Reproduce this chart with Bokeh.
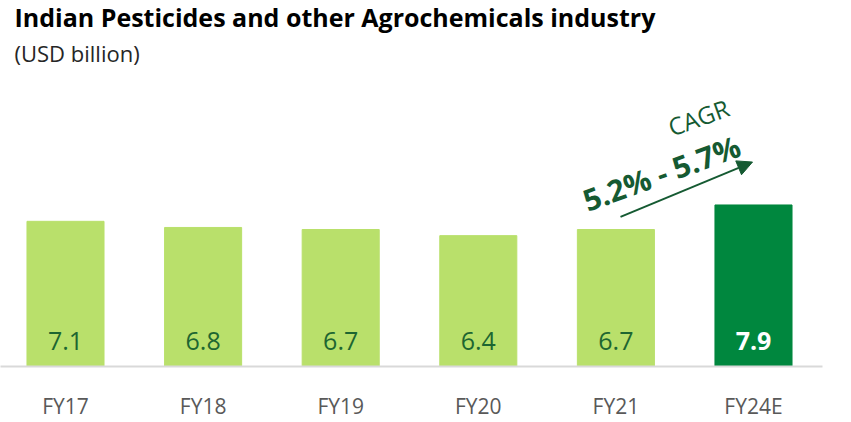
from bokeh.plotting import figure
from bokeh.models import ColumnDataSource, Range1d, FixedTicker, Label, Arrow, NormalHead
from bokeh.core.properties import value
from bokeh.embed import file_html
from bokeh.resources import INLINE
import math

# ---- data ----
categories = ["FY17", "FY18", "FY19", "FY20", "FY21", "FY24E"]
market_size = [7.1, 6.8, 6.7, 6.4, 6.7, 7.9]
value_labels = ["7.1", "6.8", "6.7", "6.4", "6.7", "7.9"]
bar_colors = ["#b9e06b", "#b9e06b", "#b9e06b", "#b9e06b", "#b9e06b", "#00873e"]
label_colors = ["#1d6631", "#1d6631", "#1d6631", "#1d6631", "#1d6631", "#ffffff"]
label_weights = ["normal", "normal", "normal", "normal", "normal", "bold"]
title_text = "Indian Pesticides and other Agrochemicals industry"
subtitle_text = "(USD billion)"
cagr_label = "CAGR"
cagr_range = "5.2% - 5.7%"

FONT = "Open Sans"
W, H = 835, 422
FRAME_W, FRAME_H = 822, 367
X_START, X_END = -0.4724, 5.5015
Y_START, Y_END = 0.0, 17.90


def px(xpage):
    return X_START + xpage / FRAME_W * (X_END - X_START)


def py(ypage):
    return Y_START + (FRAME_H - ypage) / FRAME_H * (Y_END - Y_START)


x_idx = list(range(len(categories)))
src = ColumnDataSource(dict(
    x=x_idx, top=market_size, color=bar_colors, label=value_labels,
    lcolor=label_colors, lweight=label_weights,
    ly=[1.25] * len(categories),
))

p = figure(width=W, height=H, output_backend="svg", toolbar_location=None,
           x_range=Range1d(X_START, X_END), y_range=Range1d(Y_START, Y_END),
           min_border_left=0, min_border_top=0, min_border_right=W - FRAME_W,
           min_border_bottom=H - FRAME_H)
p.outline_line_color = None
p.xgrid.visible = False
p.ygrid.visible = False
p.yaxis.visible = False
p.background_fill_color = "white"
p.border_fill_color = "white"

p.vbar(x="x", top="top", width=0.56, bottom=0, color="color", source=src)
p.text(x="x", y="ly", text="label", text_color="lcolor", text_font_style="lweight",
       text_font=value(FONT), text_font_size="25px", text_align="center",
       text_baseline="middle", source=src)

ax = p.xaxis[0]
ax.ticker = FixedTicker(ticks=x_idx)
ax.major_label_overrides = {i: c for i, c in enumerate(categories)}
ax.axis_line_color = "#d9d9d9"
ax.axis_line_width = 2
ax.major_tick_line_color = None
ax.minor_tick_line_color = None
ax.major_label_text_font = FONT
ax.major_label_text_font_size = "21px"
ax.major_label_text_color = "#595959"
ax.major_label_standoff = 19

# titles
p.add_layout(Label(x=px(14), y=py(17), text=title_text, text_font=FONT,
                   text_font_size="25px", text_font_style="bold",
                   text_color="#000000", text_baseline="alphabetic"))
p.add_layout(Label(x=px(14), y=py(53), text=subtitle_text, text_font=FONT,
                   text_font_size="22px", text_color="#262626",
                   text_baseline="alphabetic"))

# CAGR annotation
ang = math.radians(20)
p.add_layout(Label(x=px(698), y=py(117), text=cagr_label, text_font=FONT,
                   text_font_size="24px", text_color="#155a32", angle=ang,
                   text_align="center", text_baseline="middle"))
p.add_layout(Label(x=px(661), y=py(173), text=cagr_range, text_font=FONT,
                   text_font_size="30px", text_font_style="bold",
                   text_color="#155a32", angle=ang,
                   text_align="center", text_baseline="middle"))
p.add_layout(Arrow(x_start=px(620), y_start=py(217), x_end=px(752), y_end=py(162),
                   line_color="#155a32", line_width=2,
                   end=NormalHead(size=15, fill_color="#155a32", line_color="#155a32")))

open("out.html", "w").write(file_html(p, INLINE))
